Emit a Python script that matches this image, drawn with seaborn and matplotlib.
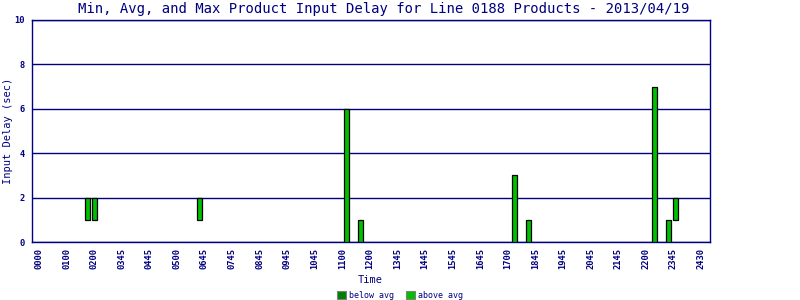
import numpy as np
import pandas as pd
import matplotlib
matplotlib.use("Agg")
import matplotlib.pyplot as plt
from matplotlib.patches import Patch
import seaborn as sns

# ---- data ----
bar_times = ["01:45", "02:00", "05:45", "11:00", "11:30", "17:00", "17:30", "22:00", "22:30", "22:45"]
min_delay = [1, 1, 1, 0, 0, 0, 0, 0, 0, 1]
max_delay = [2, 2, 2, 6, 1, 3, 1, 7, 1, 2]
tick_labels = ["0000", "0100", "0200", "0345", "0445", "0500", "0645", "0745", "0845",
               "0945", "1045", "1100", "1200", "1345", "1445", "1545", "1645", "1700",
               "1845", "1945", "2045", "2145", "2200", "2345", "2430"]
legend_labels = ["below avg", "above avg"]
legend_colors = ["#008000", "#00C000"]

NAVY = "#000080"
MONO = "DejaVu Sans Mono"

# quarter-hour slot index for each bar
slots = [int(t[:2]) * 4 + int(t[3:]) // 15 for t in bar_times]
df = pd.DataFrame({
    "slot": slots,
    "height": np.array(max_delay) - np.array(min_delay),
    "bottom": min_delay,
}).sort_values("slot")

sns.set_theme(style="white")
plt.rcParams["font.family"] = [MONO, "DejaVu Sans"]

fig = plt.figure(figsize=(8, 3), dpi=100)
ax = fig.add_axes([31.5 / 800, 1 - 242 / 300, (710 - 31.5) / 800, (242 - 20) / 300])

sns.barplot(data=df, x="slot", y="height", native_scale=True, errorbar=None,
            width=0.72, color="#00C000", bottom=df["bottom"].values,
            edgecolor="black", linewidth=0.9, ax=ax, zorder=3)
for p in ax.patches:
    p.set_facecolor("#00C000")
    p.set_edgecolor("black")

ax.set_xlim(-1.07, 95.9)
ax.set_ylim(0, 10)
ax.set_yticks([0, 2, 4, 6, 8, 10])
ax.set_yticklabels(["0", "2", "4", "6", "8", "10"])
ax.set_xticks(np.linspace(0, 94.6, len(tick_labels)))
ax.set_xticklabels(tick_labels, rotation=90)
ax.tick_params(axis="both", length=0, colors=NAVY, labelsize=6.3)
ax.tick_params(axis="x", pad=4.5)
ax.tick_params(axis="y", pad=5)
for lab in ax.get_xticklabels() + ax.get_yticklabels():
    lab.set_fontfamily(MONO)
    lab.set_fontweight("bold")

ax.yaxis.grid(True, color=NAVY, linewidth=1.0, zorder=1)
ax.xaxis.grid(False)
ax.set_axisbelow(True)
for s in ax.spines.values():
    s.set_color(NAVY)
    s.set_linewidth(1.0)
    s.set_visible(True)

ax.set_xlabel("Time", color=NAVY, fontsize=7.5, labelpad=4, fontfamily=MONO)
ax.set_ylabel("")
fig.text(8.5 / 800, 1 - 131 / 300, "Input Delay (sec)", rotation=90, ha="center",
         va="center", color=NAVY, fontsize=7.5, fontfamily=MONO)

fig.text(384 / 800, 1 - 8.5 / 300,
         "Min, Avg, and Max Product Input Delay for Line 0188 Products - 2013/04/19",
         ha="center", va="center", color=NAVY, fontsize=10, fontfamily=MONO)

handles = [Patch(facecolor=c, edgecolor="#808080", linewidth=0.8, label=l)
           for c, l in zip(legend_colors, legend_labels)]
leg = fig.legend(handles=handles, loc="center", bbox_to_anchor=(400 / 800, 1 - 295 / 300),
                 ncol=2, frameon=False, fontsize=6, handlelength=1.1, handleheight=1.1,
                 handletextpad=0.4, columnspacing=1.4, borderpad=0)
for t in leg.get_texts():
    t.set_color(NAVY)
    t.set_fontfamily(MONO)

fig.savefig("out.png", dpi=100)
